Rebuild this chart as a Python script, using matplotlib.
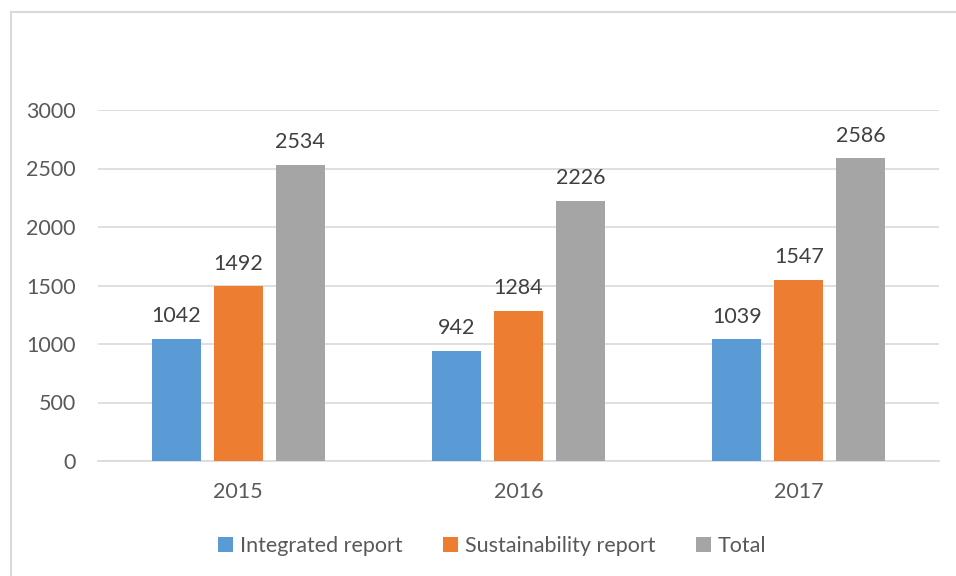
import matplotlib
matplotlib.use("Agg")
import matplotlib.pyplot as plt
import numpy as np
from matplotlib.lines import Line2D
from matplotlib.patches import Patch

years = ["2015", "2016", "2017"]
series_names = ["Integrated report", "Sustainability report", "Total"]
integrated = [1042, 942, 1039]
sustainability = [1492, 1284, 1547]
total = [2534, 2226, 2586]
yticks = [0, 500, 1000, 1500, 2000, 2500, 3000]

colors = ["#5B9BD5", "#ED7D31", "#A5A5A5"]
text_color = "#595959"
plt.rcParams['font.family'] = ['Lato', 'DejaVu Sans']

fig = plt.figure(figsize=(9.56, 5.76), dpi=100)
W, H = 956, 576
ax = fig.add_axes([98 / W, 1 - 461 / H, (939 - 98) / W, (461 - 110) / H])

x = np.arange(len(years))
width = 0.175
step = 0.221
fs = 15.5
for i, (vals, c) in enumerate(zip([integrated, sustainability, total], colors)):
    pos = x + (i - 1) * step
    ax.bar(pos, vals, width=width, color=c, zorder=3)
    for p, v in zip(pos, vals):
        ax.text(p, v + 110, str(v), ha="center", va="bottom", fontsize=fs, color="#404040")

ax.set_xlim(-0.5, 2.5)
ax.set_ylim(0, 3000)
ax.set_yticks(yticks)
ax.set_xticks(x)
ax.set_xticklabels(years)
ax.grid(axis="y", color="#D9D9D9", linewidth=1.2, zorder=0)
for s in ["left", "right", "top"]:
    ax.spines[s].set_visible(False)
ax.spines["bottom"].set_color("#D9D9D9")
ax.spines["bottom"].set_linewidth(1.2)
ax.tick_params(axis="both", length=0, labelsize=fs, labelcolor=text_color)
ax.tick_params(axis="y", pad=16)
ax.tick_params(axis="x", pad=15)

handles = [Patch(facecolor=c, edgecolor="none") for c in colors]
fig.legend(handles, series_names, loc="center", bbox_to_anchor=(492 / W, 1 - 546 / H),
           ncol=3, frameon=False, fontsize=fs, labelcolor=text_color,
           handlelength=0.7, handleheight=0.7, handletextpad=0.3, columnspacing=1.9)

# figure border (left and top visible)
fig.add_artist(Line2D([10.5 / W, 10.5 / W], [0, 1 - 11.5 / H], transform=fig.transFigure, color="#D9D9D9", linewidth=1.5))
fig.add_artist(Line2D([10.5 / W, 1], [1 - 11.5 / H, 1 - 11.5 / H], transform=fig.transFigure, color="#D9D9D9", linewidth=1.5))

fig.savefig("out.png", dpi=100)
